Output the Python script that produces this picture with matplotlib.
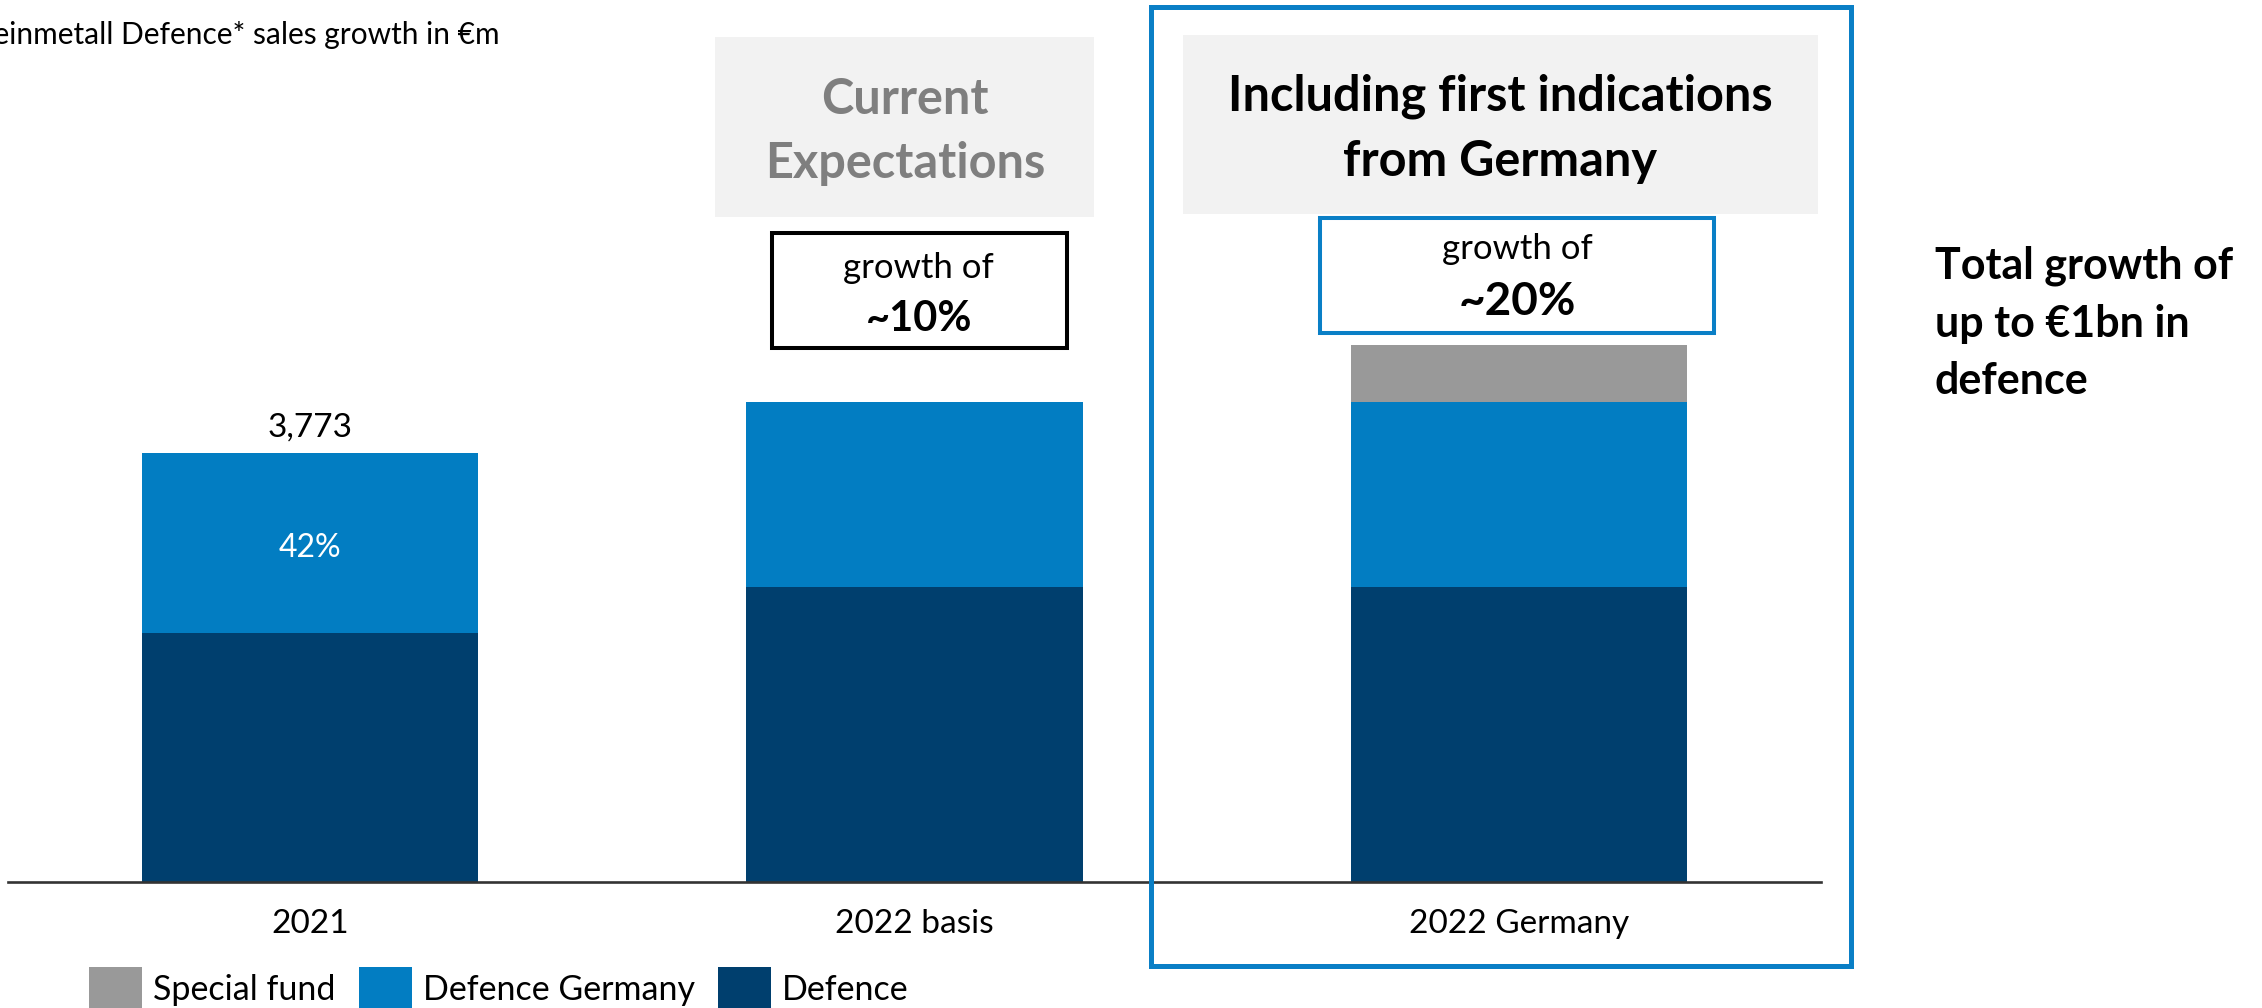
import matplotlib
matplotlib.use("Agg")
import matplotlib.pyplot as plt
from matplotlib.patches import Rectangle

plt.rcParams['font.family'] = ['Lato', 'DejaVu Sans']

# Sales data in €m
categories = ['2021', '2022 basis', '2022 Germany']
defence = [2188, 2592, 2592]
defence_germany = [1585, 1626, 1626]
special_fund = [0, 0, 502]
series_names = ['Special fund', 'Defence Germany', 'Defence']
growth_labels = ['', '~10%', '~20%']

C_DARK = '#003F6E'
C_LIGHT = '#027DC2'
C_GRAY = '#999999'
C_BOX = '#F2F2F2'
C_FRAME = '#0A7FC6'

W, H = 2262, 1008
fig = plt.figure(figsize=(W / 100, H / 100), dpi=100)


def fx(px):
    return px / W


def fy(py):
    return 1 - py / H


base_y = 881.5
ax = fig.add_axes([fx(8), fy(base_y), fx(1821) - fx(8), base_y / H])
x = list(range(len(categories)))
ax.set_xlim(-0.5, 2.5)
ax.set_ylim(0, 3773 * base_y / 428.5)

bar_w = 0.556
ax.bar(x, defence, width=bar_w, color=C_DARK, linewidth=0)
ax.bar(x, defence_germany, width=bar_w, bottom=defence,
       color=C_LIGHT, linewidth=0)
tops = [d + g for d, g in zip(defence, defence_germany)]
ax.bar(x, special_fund, width=bar_w, bottom=tops,
       color=C_GRAY, linewidth=0)

for s in ['top', 'right', 'left']:
    ax.spines[s].set_visible(False)
ax.spines['bottom'].set_color('#333333')
ax.spines['bottom'].set_linewidth(1.9)
ax.set_yticks([])
ax.set_xticks(x)
ax.set_xticklabels(categories, fontsize=24)
ax.tick_params(axis='x', length=0, pad=20)
ax.patch.set_alpha(0)

# Value labels on the 2021 bar
total0 = defence[0] + defence_germany[0]
ax.text(x[0], total0 + 90, f'{total0:,}', ha='center', va='bottom',
        fontsize=24, color='black')
share = defence_germany[0] / total0 * 100
ax.text(x[0], defence[0] + defence_germany[0] * 0.47, f'{share:.0f}%',
        ha='center', va='center', fontsize=23, color='white')

# Chart title (runs off the left edge)
fig.text(fx(500), fy(35), 'Rheinmetall Defence* sales growth in €m',
         ha='right', va='center', fontsize=21.5, color='black')

# Header boxes
fig.add_artist(Rectangle((fx(715), fy(217)), fx(1094) - fx(715), fy(37) - fy(217),
                         transform=fig.transFigure, facecolor=C_BOX, edgecolor='none'))
fig.text(fx(905), fy(100), 'Current', ha='center', va='center', fontsize=35,
         fontweight='bold', color='#7F7F7F')
fig.text(fx(905), fy(163), 'Expectations', ha='center', va='center', fontsize=35,
         fontweight='bold', color='#7F7F7F')

fig.add_artist(Rectangle((fx(1183), fy(214)), fx(1818) - fx(1183), fy(35) - fy(214),
                         transform=fig.transFigure, facecolor=C_BOX, edgecolor='none'))
fig.text(fx(1500), fy(96), 'Including first indications', ha='center', va='center',
         fontsize=35, fontweight='bold', color='black')
fig.text(fx(1500), fy(161), 'from Germany', ha='center', va='center',
         fontsize=35, fontweight='bold', color='black')

# Growth boxes
fig.add_artist(Rectangle((fx(772), fy(348)), fx(1067) - fx(772), fy(233) - fy(348),
                         transform=fig.transFigure, facecolor='white',
                         edgecolor='black', linewidth=2.9))
fig.text(fx(918), fy(268), 'growth of', ha='center', va='center', fontsize=25)
fig.text(fx(919), fy(319), growth_labels[1], ha='center', va='center', fontsize=30,
         fontweight='bold')

fig.add_artist(Rectangle((fx(1320), fy(333)), fx(1714) - fx(1320), fy(218) - fy(333),
                         transform=fig.transFigure, facecolor='white',
                         edgecolor=C_FRAME, linewidth=2.9))
fig.text(fx(1517), fy(249), 'growth of', ha='center', va='center', fontsize=25)
fig.text(fx(1517), fy(302), growth_labels[2], ha='center', va='center', fontsize=33,
         fontweight='bold')

# Highlight frame around the Germany scenario
fig.add_artist(Rectangle((fx(1151), fy(966)), fx(1851) - fx(1151), fy(7) - fy(966),
                         transform=fig.transFigure, facecolor='none',
                         edgecolor=C_FRAME, linewidth=3.6))

# Side note
for i, line in enumerate(['Total growth of', 'up to €1bn in', 'defence']):
    fig.text(fx(1935), fy(266 + 57.5 * i), line, ha='left', va='center',
             fontsize=31, fontweight='bold')

# Legend
legend_items = [(89, C_GRAY, series_names[0]),
                (359, C_LIGHT, series_names[1]),
                (718, C_DARK, series_names[2])]
for x0, col, name in legend_items:
    fig.add_artist(Rectangle((fx(x0), fy(1012)), fx(53), 45 / H,
                             transform=fig.transFigure, facecolor=col,
                             edgecolor='none'))
    fig.text(fx(x0 + 64), fy(990), name, ha='left', va='center', fontsize=24.5)

fig.savefig('out.png', dpi=100)
